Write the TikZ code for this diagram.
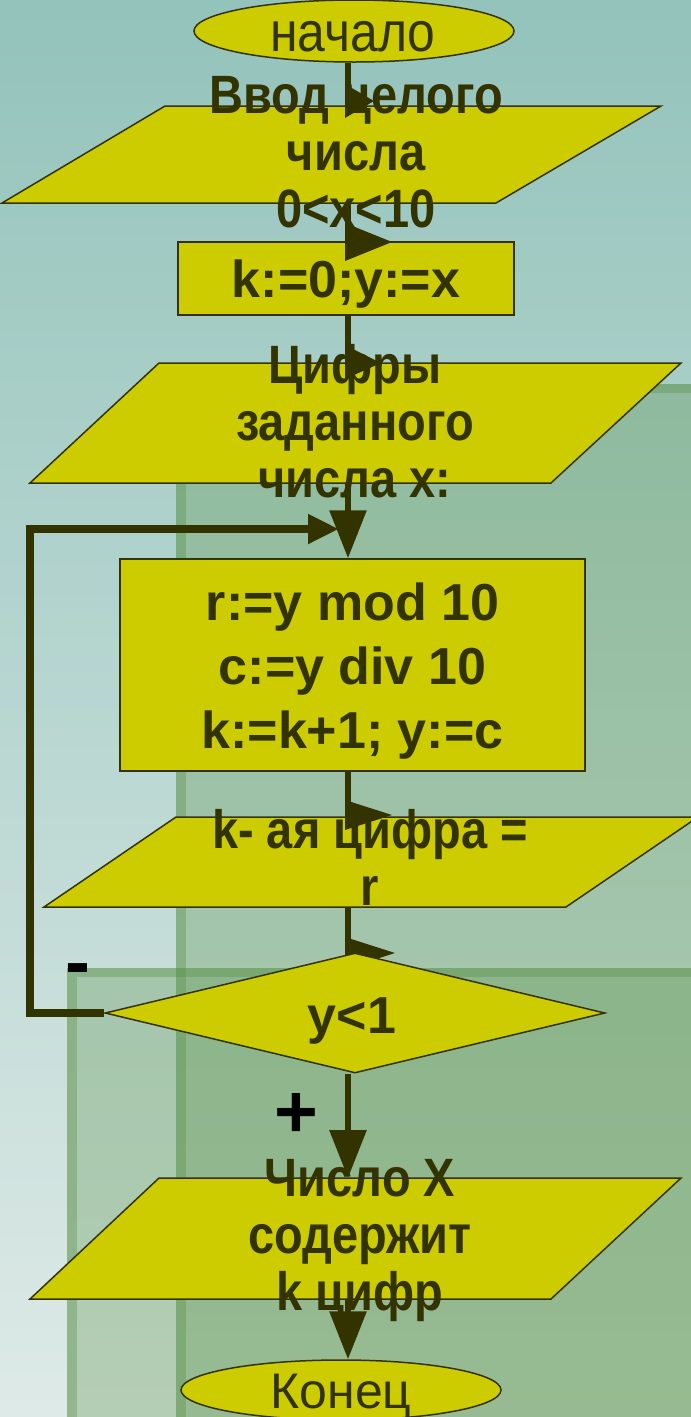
\documentclass[tikz,border=0pt]{standalone}
\usepackage{fontspec}
\setmainfont{Liberation Sans}
\newfontfamily\narrowbold[FakeStretch=0.87]{Liberation Sans Bold}
\newfontfamily\narrowreg[FakeStretch=0.89]{Liberation Sans}
\usetikzlibrary{arrows.meta,shapes.geometric}
\definecolor{fillY}{HTML}{CCCC00}
\definecolor{dk}{HTML}{333300}
\definecolor{bgtop}{RGB}{147,195,187}
\definecolor{bgbot}{RGB}{222,234,231}
\definecolor{ov}{RGB}{86,143,67}
\tikzset{
  shp/.style={fill=fillY, draw=dk, line width=1.5pt},
  conn/.style={draw=dk, line width=6pt},
  darr/.style={conn, -{Triangle[width=36pt,length=48pt]}},
  larr/.style={draw=dk, line width=8pt, -{Triangle[width=28pt,length=31pt]}},
  tri/.style={fill=dk},
  ovl/.style={fill=ov, fill opacity=0.3},
  ovs/.style={fill=ov, fill opacity=0.36},
  txt/.style={text=dk, font=\narrowbold\fontsize{54}{57}\selectfont, align=center, inner sep=0pt},
  btxt/.style={text=dk, font=\fontsize{52}{64}\selectfont\bfseries, align=center, inner sep=0pt},
  rtxt/.style={text=dk, font=\fontsize{50}{60}\selectfont, inner sep=0pt},
  ntxt/.style={text=dk, font=\narrowreg\fontsize{56}{60}\selectfont, inner sep=0pt},
  lbl/.style={text=black, font=\fontsize{75}{75}\selectfont\bfseries, inner sep=0pt}
}
\begin{document}
\begin{tikzpicture}[x=1pt,y=-1pt]
\useasboundingbox (0,0) rectangle (691,1417);
% background
\shade[top color=bgtop, bottom color=bgbot] (0,0) rectangle (691,1417);
\fill[ovl] (176,384) rectangle (691,1417);
\fill[ovs] (176,384) rectangle (186,1417);
\fill[ovs] (186,384) rectangle (691,393);
\fill[ovl] (67,968) rectangle (691,1417);
\fill[ovs] (67,968) rectangle (77,1417);
\fill[ovs] (77,968) rectangle (691,977);

% shapes
\node[ellipse, shp, minimum width=320pt, minimum height=62pt, inner sep=0pt] (start) at (354,31) {};
\draw[shp] (165,106) -- (661,106) -- (496,203) -- (2,203) -- cycle;
\coordinate (p1t) at (348,106);
\coordinate (p1b) at (348,203);
\node[rectangle, shp, minimum width=336pt, minimum height=73pt, inner sep=0pt] (box1) at (346,278.5) {};
\draw[shp] (159,363) -- (681,363) -- (551,483) -- (30,483) -- cycle;
\coordinate (p2t) at (348,363);
\coordinate (p2b) at (348,483);
\node[rectangle, shp, minimum width=465pt, minimum height=212pt, inner sep=0pt] (box2) at (352.5,665) {};
\draw[shp] (176,817) -- (698,817) -- (566,907) -- (44,907) -- cycle;
\coordinate (p3t) at (348,817);
\coordinate (p3b) at (348,907);
\draw[shp] (159,1178) -- (681,1178) -- (551,1299) -- (30,1299) -- cycle;
\coordinate (p4t) at (348,1178);
\coordinate (p4b) at (348,1299);
\node[ellipse, shp, minimum width=320pt, minimum height=60pt, inner sep=0pt] (stop) at (341,1390) {};

% connectors
\draw[conn] (start.south -| p1t) -- (p1t);
\fill[tri] (345,84) -- (374,101) -- (345,118) -- cycle;
\draw[conn] (p1b) -- (box1.north -| p1b);
\fill[tri] (345,223) -- (392,242) -- (345,261) -- cycle;
\draw[conn] (box1.south -| p2t) -- (p2t);
\fill[tri] (345,345) -- (381,363) -- (345,379) -- cycle;
\draw[darr] (p2b) -- (box2.north -| p2b);
\draw[conn] (box2.south -| p3t) -- (p3t);
\fill[tri] (345,800) -- (392,815) -- (345,830) -- cycle;
\coordinate (dtop) at (348,960);
\draw[conn] (p3b) -- (dtop);
\fill[tri] (345,937) -- (395,953) -- (345,969) -- cycle;
\node[diamond, shp, minimum width=500pt, minimum height=120pt, inner sep=0pt] (dec) at (355,1013) {};
\coordinate (loopend) at (339,529);
\draw[larr] (dec.west) -- (30,1013) -- (30,529) -- (loopend);
\draw[darr] (dec.south -| p4t) -- (p4t);
\draw[darr] (p4b) -- (stop.north -| p4b);

% texts
\node[ntxt, anchor=base] (tstart) at (353,51) {начало};
\node[txt, anchor=north] (t1) at (356,76) {Ввод целого\\числа\\0<x<10};
\node[btxt, anchor=base] (tbox1) at (346,297) {k:=0;y:=x};
\node[txt, anchor=north] (t2) at (355,344) {Цифры\\заданного\\числа x:};
\node[btxt, anchor=north] (tbox2) at (352.5,583) {r:=y mod 10\\c:=y div 10\\k:=k+1; y:=c};
\node[txt, anchor=north] (t3) at (370,809) {k- ая цифра =\\r};
\node[btxt, anchor=base] (tdec) at (352,1033) {y<1};
\node[txt, anchor=north] (t4) at (360,1159) {Число X\\содержит\\k цифр};
\node[rtxt, anchor=base] (tstop) at (341,1408) {Конец};
\node[lbl, anchor=base] (minus) at (77.5,987) {-};
\node[lbl, anchor=base] (plus) at (296.5,1137) {+};
\end{tikzpicture}
\end{document}
